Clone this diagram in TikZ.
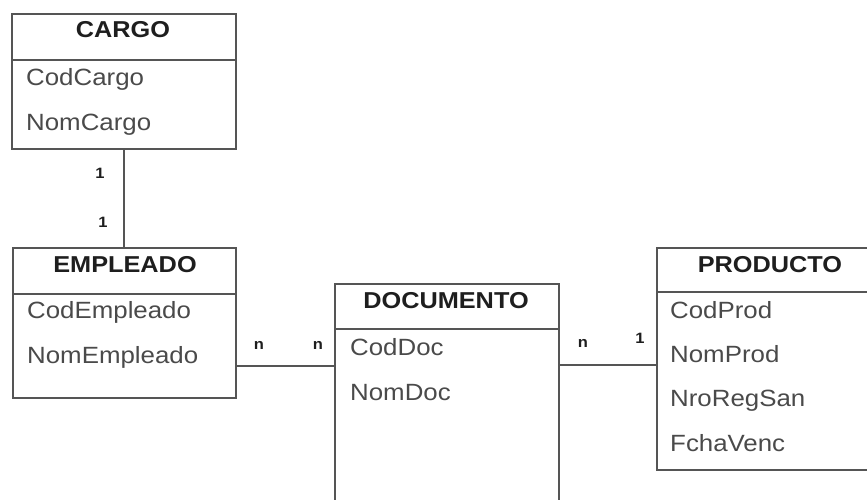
\documentclass[tikz,border=0pt]{standalone}
\usepackage{fontspec}
\setmainfont{Liberation Sans}[FakeStretch=1.1]
\definecolor{linegray}{HTML}{555555}
\definecolor{attrgray}{HTML}{4A4A4A}
\definecolor{headblack}{HTML}{1E1E1E}
\begin{document}
\begin{tikzpicture}[x=1pt,y=-1pt,
  entity/.style={draw=linegray,line width=1.6pt,rectangle,anchor=north west,inner sep=0pt},
  divider/.style={draw=linegray,line width=1.6pt},
  conn/.style={draw=linegray,line width=1.6pt},
  head/.style={anchor=base,inner sep=0pt,text=headblack,font=\fontsize{23}{27}\selectfont\bfseries},
  attr/.style={anchor=base west,inner sep=0pt,text=attrgray,font=\fontsize{23.5}{27}\selectfont},
  card/.style={anchor=base,inner sep=0pt,text=headblack,font=\fontsize{15}{18}\selectfont\bfseries}]
\useasboundingbox (0,0) rectangle (867,499);
\clip (0,0) rectangle (867,499);
% CARGO
\node[entity,minimum width=224pt,minimum height=135pt] (cargo) at (11,13) {};
\draw[divider] (cargo.west |- 0,60) -- (cargo.east |- 0,60);
\node[head] (cargoT) at (123,37) {CARGO};
\node[attr] (cargoA1) at (26,85) {CodCargo};
\node[attr] (cargoA2) at (26,130) {NomCargo};
% EMPLEADO
\node[entity,minimum width=223pt,minimum height=150pt] (empleado) at (12,247) {};
\draw[divider] (empleado.west |- 0,294) -- (empleado.east |- 0,294);
\node[head] (empleadoT) at (125,272) {EMPLEADO};
\node[attr] (empleadoA1) at (27,318) {CodEmpleado};
\node[attr] (empleadoA2) at (27,363) {NomEmpleado};
% DOCUMENTO
\node[entity,minimum width=224pt,minimum height=250pt] (documento) at (334,283) {};
\draw[divider] (documento.west |- 0,329) -- (documento.east |- 0,329);
\node[head] (documentoT) at (446,308) {DOCUMENTO};
\node[attr] (documentoA1) at (350,355) {CodDoc};
\node[attr] (documentoA2) at (350,400) {NomDoc};
% PRODUCTO
\node[entity,minimum width=228pt,minimum height=222pt] (producto) at (656,247) {};
\draw[divider] (producto.west |- 0,292) -- (producto.east |- 0,292);
\node[head] (productoT) at (770,272) {PRODUCTO};
\node[attr] (productoA1) at (670,318) {CodProd};
\node[attr] (productoA2) at (670,362) {NomProd};
\node[attr] (productoA3) at (670,406) {NroRegSan};
\node[attr] (productoA4) at (670,451) {FchaVenc};
% connectors
\draw[conn] (cargo.south) -- (empleado.north -| cargo.south);
\draw[conn] (empleado.east |- 0,366) -- (documento.west |- 0,366);
\draw[conn] (documento.east |- 0,365) -- (producto.west |- 0,365);
% cardinalities
\node[card] (c1) at (100,178) {1};
\node[card] (c2) at (103,227) {1};
\node[card] (c3) at (259,349) {n};
\node[card] (c4) at (318,349) {n};
\node[card] (c5) at (583,347) {n};
\node[card] (c6) at (640,343) {1};
\end{tikzpicture}
\end{document}
